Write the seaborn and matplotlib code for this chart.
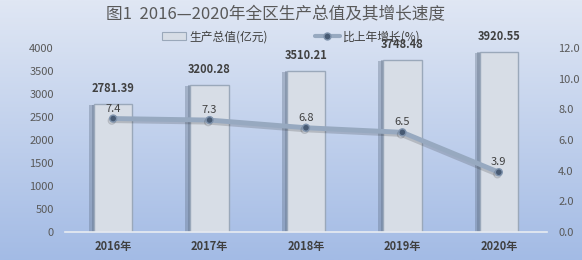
import numpy as np
import pandas as pd
import matplotlib
matplotlib.use("Agg")
import matplotlib.pyplot as plt
import matplotlib.patheffects as pe
from matplotlib.lines import Line2D
from matplotlib.patches import Patch
import seaborn as sns

years = ["2016年", "2017年", "2018年", "2019年", "2020年"]
gdp = [2781.39, 3200.28, 3510.21, 3748.48, 3920.55]
growth = [7.4, 7.3, 6.8, 6.5, 3.9]
left_ticks = [0, 500, 1000, 1500, 2000, 2500, 3000, 3500, 4000]
right_ticks = [0.0, 2.0, 4.0, 6.0, 8.0, 10.0, 12.0]
title = "图1  2016—2020年全区生产总值及其增长速度"
legend_labels = ["生产总值(亿元)", "比上年增长(%)"]

sns.set_theme(style="white")
plt.rcParams['font.family'] = ['Noto Sans CJK SC', 'DejaVu Sans']

df = pd.DataFrame({"year": years, "gdp": gdp, "growth": growth})

fig = plt.figure(figsize=(5.82, 2.6), dpi=100)

# gradient background
bg = fig.add_axes([0, 0, 1, 1], zorder=-10)
grad = np.linspace(0, 1, 256).reshape(-1, 1)
top = np.array([0xe0, 0xe7, 0xf4]) / 255
bot = np.array([0xa3, 0xbb, 0xe5]) / 255
img = top[None, None, :] * (1 - grad[:, :, None]) + bot[None, None, :] * grad[:, :, None]
bg.imshow(img, aspect='auto', extent=[0, 1, 0, 1])
bg.axis('off')

ax = fig.add_axes([65/582, 1 - 232/260, (547-65)/582, (232-48)/260])
ax.patch.set_alpha(0)

sns.barplot(data=df, x="year", y="gdp", ax=ax, color="#d7dde6", width=0.4,
            edgecolor="#9aa8ba", linewidth=1.0, saturation=1)
for p in ax.patches:
    p.set_path_effects([pe.SimplePatchShadow(offset=(-3.5, -1), shadow_rgbFace="#5a6a80", alpha=0.35),
                        pe.SimplePatchShadow(offset=(-1.5, -0.5), shadow_rgbFace="#5a6a80", alpha=0.35),
                        pe.Normal()])
ax.set_ylim(0, 4000)
ax.set_xlim(-0.5, 4.5)
ax.set_yticks(left_ticks)
ax.set_yticklabels([str(t) for t in left_ticks], fontsize=8, color="#595959")
ax.set_xlabel("")
ax.set_ylabel("")
ax.tick_params(axis='x', labelsize=8, length=0, pad=6)
ax.tick_params(axis='y', length=0, pad=8)
for lbl in ax.get_xticklabels():
    lbl.set_color("#404040")
    lbl.set_fontweight("bold")
for s in ["top", "right", "left"]:
    ax.spines[s].set_visible(False)
ax.spines["bottom"].set_color("#e8ecf2")
ax.spines["bottom"].set_linewidth(1.2)

for i, v in enumerate(gdp):
    ax.annotate(f"{v:.2f}", (i, v), xytext=(0, 6.5), textcoords="offset points",
                ha="center", va="bottom", fontsize=8, fontweight="bold", color="#404040")

ax2 = ax.twinx()
ax2.patch.set_alpha(0)
sns.pointplot(data=df, x="year", y="growth", ax=ax2, color="#97a9c0",
              markers="o", linewidth=3.5, markersize=5)
for ln in ax2.lines:
    ln.set_markerfacecolor("#475a73")
    ln.set_markeredgecolor("#7f93ad")
    ln.set_markeredgewidth(1)
    ln.set_path_effects([pe.SimpleLineShadow(offset=(-1, -1.5), alpha=0.18), pe.Normal()])
ax2.set_ylim(0, 12)
ax2.set_xlim(-0.5, 4.5)
ax2.set_yticks(right_ticks)
ax2.set_yticklabels([f"{t:.1f}" for t in right_ticks], fontsize=8, color="#595959")
ax2.tick_params(axis='y', length=0, pad=8)
ax2.set_ylabel("")
ax2.set_xlabel("")
for s in ["top", "right", "left", "bottom"]:
    ax2.spines[s].set_visible(False)
for i, v in enumerate(growth):
    ax2.annotate(f"{v}", (i, v), xytext=(0, 3.5), textcoords="offset points",
                 ha="center", va="bottom", fontsize=8, color="#404040")

fig.text(276/582, 1 - 15/260, title, ha="center", va="center", fontsize=12, color="#595959")

handles = [Patch(facecolor="#d7dde6", edgecolor="#9aa8ba", linewidth=0.8),
           Line2D([0], [0], color="#97a9c0", linewidth=3, marker="o", markersize=5,
                  markerfacecolor="#475a73", markeredgecolor="#7f93ad")]
leg = fig.legend(handles, legend_labels, loc="center", bbox_to_anchor=(291/582, 1 - 37/260),
                 ncol=2, frameon=False, fontsize=8.5, columnspacing=4.0, handlelength=2.1,
                 handletextpad=0.25)
for t in leg.get_texts():
    t.set_color("#404040")

fig.savefig("out.png", dpi=100)
